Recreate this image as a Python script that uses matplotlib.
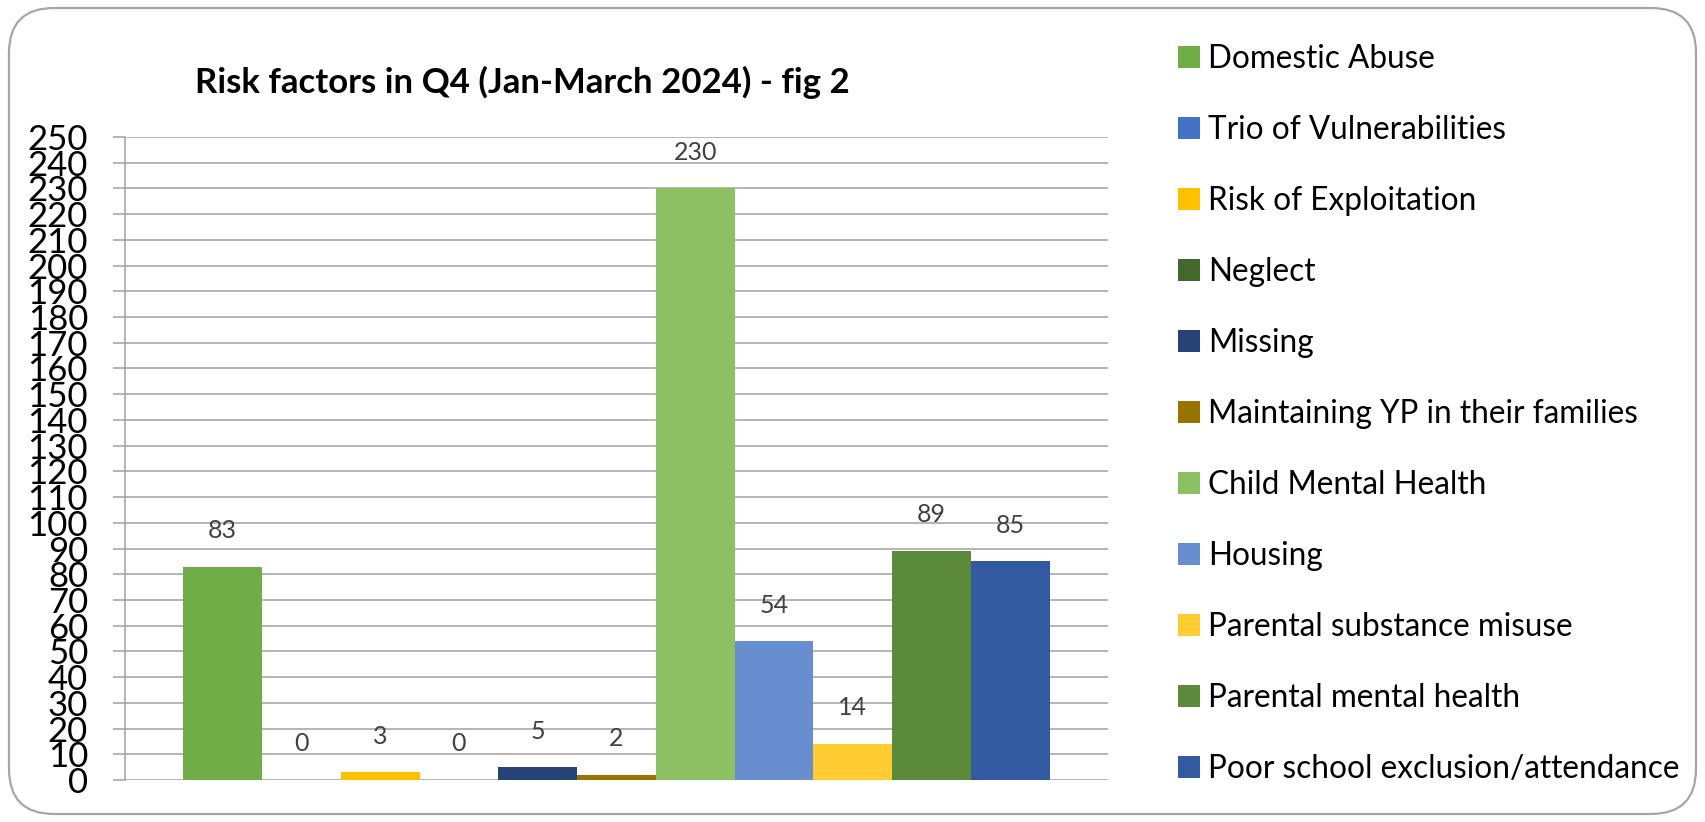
import matplotlib
matplotlib.use("Agg")
import matplotlib.pyplot as plt
from matplotlib.patches import FancyBboxPatch, Patch

plt.rcParams["font.family"] = ["Lato", "DejaVu Sans"]

categories = [
    "Domestic Abuse",
    "Trio of Vulnerabilities",
    "Risk of Exploitation",
    "Neglect",
    "Missing",
    "Maintaining YP in their families",
    "Child Mental Health",
    "Housing",
    "Parental substance misuse",
    "Parental mental health",
    "Poor school exclusion/attendance",
]
values = [83, 0, 3, 0, 5, 2, 230, 54, 14, 89, 85]
colors = [
    "#70AD47", "#4472C4", "#FFC000", "#43682B", "#264478", "#997300",
    "#8DC063", "#698ED0", "#FFCD33", "#5A8A3A", "#335AA1",
]
y_ticks = list(range(0, 251, 10))
title = "Risk factors in Q4 (Jan-March 2024) - fig 2"

W, H = 1705, 822
fig = plt.figure(figsize=(W / 100, H / 100), dpi=100)

# rounded outer frame
bg = fig.add_axes([0, 0, 1, 1])
bg.set_xlim(0, W)
bg.set_ylim(0, H)
bg.axis("off")
bg.add_patch(FancyBboxPatch((9 + 45, 8 + 45), W - 18 - 90, H - 16 - 90,
                            boxstyle="round,pad=45", facecolor="white",
                            edgecolor="#A6A6A6", linewidth=1.6))

grey = "#A0A0A0"
left, right, top, bottom = 125, 1108, 137, 780
ax = fig.add_axes([left / W, (H - bottom) / H, (right - left) / W, (bottom - top) / H])
ax.set_facecolor("none")

xs = list(range(len(values)))
ax.bar(xs, values, width=1.0, color=colors, zorder=3)
for x, v in zip(xs, values):
    ax.annotate(str(v), (x, v), xytext=(0, 26), textcoords="offset points",
                ha="center", va="center", fontsize=18, color="#404040")

ax.set_xlim(-1.24, len(values) + 0.24)
ax.set_ylim(0, 250)
ax.set_yticks(y_ticks)
ax.tick_params(axis="y", length=8.6, width=1.1, color=grey, pad=18, labelsize=25)
ax.set_xticks([])
ax.grid(axis="y", color=grey, linewidth=1.1, zorder=0)
for s in ["top", "right", "bottom"]:
    ax.spines[s].set_visible(False)
ax.spines["left"].set_color(grey)
ax.spines["left"].set_linewidth(1.1)

fig.text(522 / W, 1 - 82 / H, title, ha="center", va="center",
         fontsize=25, fontweight="bold")

handles = [Patch(facecolor=c) for c in colors]
fig.legend(handles, categories, loc="upper left",
           bbox_to_anchor=(1178 / W, 1 - 44 / H), frameon=False,
           fontsize=22.7, handlelength=0.7, handleheight=0.7,
           handletextpad=0.25, labelspacing=1.30, borderpad=0, borderaxespad=0)

fig.savefig("out.png", dpi=100)
